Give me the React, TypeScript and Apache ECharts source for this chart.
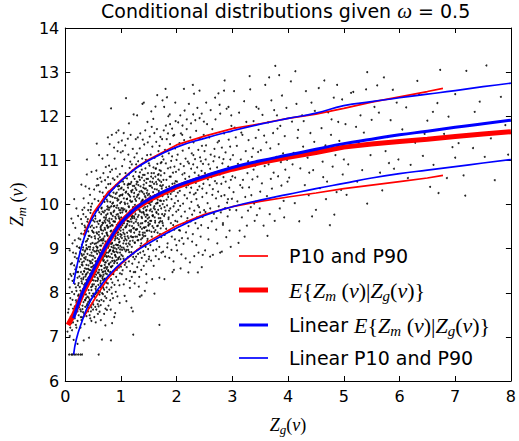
import React, { useEffect, useRef } from "react";
import * as echarts from "echarts";

// ---- data (flat x,y pairs) ----
const cloudEdge = [
  0.07,6.6, 0.11,6.6, 0.13,6.6, 0.16,6.6, 0.19,6.6, 0.23,6.6, 0.27,6.6, 0.3,6.6, 0.6,6.6,
  0.04,7.12, 0.05,7.55, 0.06,8.31, 0.08,7.02, 0.09,7.88, 0.1,8.65, 0.11,7.31, 0.12,8.02, 0.13,9.12, 0.14,7.64, 0.15,8.43, 0.15,6.93, 0.16,7.97, 0.17,8.81, 0.17,7.42, 0.18,9.47, 0.19,8.12, 0.2,7.21, 0.2,8.58, 0.21,7.76, 0.21,9.05, 0.22,8.34, 0.22,6.84, 0.23,7.93, 0.23,9.74, 0.24,8.22, 0.24,7.49, 0.25,8.71, 0.08,8.96, 0.12,7.15, 0.14,9.58, 0.18,7.61, 0.19,8.89, 0.1,7.73, 0.07,9.31, 0.16,10.12, 0.21,8.47, 0.24,9.23, 0.13,8.27, 0.19,7.83, 0.22,7.36, 0.09,8.42, 0.2,9.91, 0.25,7.67, 0.17,8.2, 0.11,9.68,
  0.06,7.63, 0.08,8.12, 0.1,7.46, 0.11,8.38, 0.13,7.84, 0.14,8.91, 0.15,7.52, 0.16,8.29, 0.17,7.69, 0.18,8.53, 0.19,7.27, 0.2,8.04, 0.21,8.78, 0.22,7.58, 0.23,8.47, 0.24,7.96, 0.25,9.02, 0.12,8.67, 0.14,7.33, 0.17,9.19, 0.2,7.79, 0.23,8.17, 0.09,7.21, 0.16,8.62,
];
const cloudQ1 = [
  0.26,8.13, 0.27,7.62, 0.27,9.21, 0.28,8.47, 0.28,7.94, 0.29,8.88, 0.29,7.38, 0.3,9.56, 0.3,8.21, 0.31,7.71, 0.31,8.62, 0.32,9.03, 0.32,7.98, 0.33,8.35, 0.33,10.14, 0.34,7.52, 0.34,8.79, 0.35,9.41, 0.35,8.04, 0.36,7.83, 0.36,8.96, 0.37,8.41, 0.37,9.72, 0.38,7.47, 0.38,8.63, 0.39,9.18, 0.39,8.12, 0.4,7.91, 0.4,8.74, 0.41,9.87, 0.41,8.33, 0.42,7.66, 0.42,9.04, 0.43,8.52, 0.43,10.36, 0.44,7.85, 0.44,8.98, 0.45,8.27, 0.45,9.49, 0.46,7.58, 0.46,8.71, 0.47,9.26, 0.47,8.06, 0.48,8.49, 0.48,10.02, 0.49,7.77, 0.49,9.13, 0.5,8.38, 0.5,9.64,
  0.262,8.58, 0.274,7.21, 0.283,9.67, 0.295,8.01, 0.305,8.84, 0.318,7.56, 0.326,9.33, 0.339,8.18, 0.347,7.29, 0.353,8.55, 0.364,10.41, 0.372,8.09, 0.381,9.01, 0.393,7.74, 0.404,8.46, 0.412,9.39, 0.423,8.21, 0.436,7.49, 0.441,8.85, 0.452,9.81, 0.464,8.13, 0.476,7.93, 0.483,8.67, 0.495,9.38, 0.268,7.86, 0.287,8.32, 0.299,9.09, 0.311,8.42, 0.334,8.71, 0.342,9.93, 0.358,7.68, 0.369,9.16, 0.377,8.29, 0.386,10.68, 0.398,8.88, 0.408,7.58, 0.417,8.62, 0.428,9.58, 0.433,7.99, 0.447,8.43, 0.458,9.11, 0.469,7.36, 0.472,8.91, 0.487,8.19, 0.498,7.62, 0.256,9.02, 0.278,8.76, 0.302,7.44, 0.324,9.78, 0.351,8.93, 0.374,7.88, 0.396,9.61, 0.419,8.06, 0.444,10.22, 0.466,8.58, 0.491,8.75, 0.315,8.97, 0.362,8.37, 0.406,9.22, 0.455,7.71, 0.479,9.52, 0.289,10.45, 0.331,6.92, 0.425,6.98, 0.388,11.02, 0.471,10.74, 0.336,8.49, 0.409,7.79, 0.438,9.29, 0.482,8.29, 0.296,8.64, 0.357,9.48, 0.392,8.15, 0.462,9.95, 0.279,7.45, 0.345,7.97, 0.415,10.03, 0.449,7.42, 0.307,9.88, 0.368,8.81, 0.432,8.33, 0.497,8.97, 0.252,7.81, 0.321,8.08, 0.384,8.54, 0.451,8.67,
];
const cloudQ2 = [
  0.51,8.62, 0.512,9.47, 0.518,7.91, 0.523,8.94, 0.527,10.12, 0.531,8.36, 0.536,9.23, 0.539,7.68, 0.543,8.71, 0.547,9.86, 0.552,8.14, 0.556,9.05, 0.559,8.49, 0.563,10.43, 0.566,7.83, 0.571,8.88, 0.574,9.61, 0.578,8.27, 0.582,9.14, 0.585,7.52, 0.589,8.66, 0.593,10.08, 0.596,8.95, 0.6,8.04, 0.603,9.38, 0.607,8.52, 0.611,9.82, 0.614,7.96, 0.618,8.79, 0.621,9.26, 0.625,8.37, 0.629,10.61, 0.632,8.97, 0.636,7.72, 0.639,9.51, 0.643,8.61, 0.646,9.07, 0.65,8.19, 0.654,9.93, 0.657,8.83, 0.661,7.99, 0.664,9.34, 0.668,8.47, 0.671,10.27, 0.675,8.92, 0.679,9.58, 0.682,8.11, 0.686,9.19, 0.689,7.81, 0.693,8.74, 0.696,9.71, 0.7,8.56, 0.704,10.06, 0.707,9.02, 0.711,8.32, 0.714,9.43, 0.718,8.87, 0.721,7.64, 0.725,9.67, 0.729,8.69, 0.732,10.38, 0.736,9.11, 0.739,8.23, 0.743,9.36, 0.746,8.81, 0.75,9.89,
  0.505,9.02, 0.515,8.19, 0.521,7.45, 0.534,8.55, 0.541,9.68, 0.549,7.99, 0.554,8.41, 0.561,9.37, 0.569,8.01, 0.576,8.57, 0.587,9.91, 0.591,8.31, 0.598,7.69, 0.605,9.17, 0.612,8.68, 0.619,10.29, 0.627,8.12, 0.634,9.48, 0.641,8.39, 0.648,7.84, 0.655,9.21, 0.662,8.76, 0.669,9.84, 0.677,8.29, 0.684,10.71, 0.691,8.96, 0.698,8.07, 0.705,9.28, 0.712,7.92, 0.719,9.59, 0.726,8.44, 0.733,9.04, 0.741,8.12, 0.748,9.52, 0.508,8.28, 0.526,9.61, 0.544,8.09, 0.558,10.77, 0.572,9.34, 0.584,8.45, 0.597,9.56, 0.609,7.81, 0.623,9.64, 0.637,8.89, 0.651,10.52, 0.666,8.14, 0.681,9.41, 0.695,10.18, 0.709,8.63, 0.723,8.98, 0.737,7.88, 0.502,7.73, 0.532,8.79, 0.562,8.71, 0.592,9.22, 0.622,8.02, 0.652,8.61, 0.682,8.72, 0.712,9.86, 0.742,8.54, 0.517,10.34, 0.547,7.33, 0.577,10.58, 0.607,11.12, 0.638,7.38, 0.667,11.04, 0.697,7.52, 0.727,10.85, 0.747,7.61, 0.524,8.43, 0.553,9.12, 0.583,7.74, 0.613,8.91, 0.644,9.78, 0.673,8.37, 0.703,8.83, 0.734,9.76, 0.529,9.28, 0.568,8.96, 0.601,8.46, 0.631,9.19, 0.659,9.54, 0.688,8.41, 0.717,8.49, 0.745,10.11, 0.537,7.97, 0.579,9.03, 0.616,7.57, 0.647,9.42, 0.676,7.97, 0.706,9.63, 0.738,8.91, 0.557,7.62, 0.594,10.44, 0.635,8.27, 0.674,9.12, 0.713,10.55, 0.565,11.38, 0.658,6.94, 0.72,7.26,
];
const cloudQ3 = [
  0.752,9.31, 0.755,8.58, 0.758,10.07, 0.761,9.64, 0.764,8.21, 0.768,9.02, 0.771,10.46, 0.774,8.83, 0.777,9.49, 0.781,8.39, 0.784,9.88, 0.787,9.17, 0.791,8.07, 0.794,10.21, 0.797,8.96, 0.801,9.58, 0.804,8.47, 0.807,10.74, 0.811,9.26, 0.814,8.69, 0.817,9.81, 0.821,8.31, 0.824,9.41, 0.827,10.33, 0.831,8.88, 0.834,9.67, 0.837,7.98, 0.841,9.13, 0.844,10.02, 0.847,8.61, 0.851,9.52, 0.854,10.59, 0.857,8.94, 0.861,9.29, 0.864,8.42, 0.867,9.96, 0.871,9.07, 0.874,10.38, 0.877,8.73, 0.881,9.61, 0.884,8.18, 0.887,9.34, 0.891,10.15, 0.894,8.86, 0.897,9.72, 0.901,8.53, 0.904,9.45, 0.907,10.81, 0.911,9.09, 0.914,8.36, 0.917,9.93, 0.921,8.99, 0.924,10.27, 0.927,9.54, 0.931,8.67, 0.934,9.24, 0.937,10.63, 0.941,8.91, 0.944,9.78, 0.947,8.28, 0.951,9.37, 0.954,10.11, 0.957,9.02, 0.961,8.57, 0.964,9.69, 0.967,10.42, 0.971,8.81, 0.974,9.58, 0.977,9.16, 0.981,8.44, 0.984,10.03, 0.987,9.33, 0.991,8.76, 0.994,9.87, 0.997,10.52,
  0.753,8.02, 0.759,9.79, 0.766,10.62, 0.772,8.49, 0.779,9.21, 0.786,10.88, 0.792,8.94, 0.799,9.93, 0.806,7.83, 0.812,9.51, 0.818,10.19, 0.826,8.58, 0.832,9.11, 0.839,10.79, 0.846,8.23, 0.852,9.74, 0.859,9.02, 0.866,10.27, 0.872,8.49, 0.879,9.86, 0.886,11.04, 0.892,8.71, 0.899,9.23, 0.906,8.02, 0.912,10.44, 0.919,9.47, 0.926,8.52, 0.932,9.98, 0.939,11.21, 0.946,9.08, 0.952,8.79, 0.959,10.34, 0.966,9.44, 0.972,8.17, 0.979,10.69, 0.986,9.06, 0.993,9.41, 0.999,8.59, 0.757,11.12, 0.776,7.71, 0.796,11.37, 0.816,7.62, 0.836,11.58, 0.856,7.88, 0.876,11.29, 0.896,7.54, 0.916,11.63, 0.936,7.92, 0.956,11.41, 0.976,7.77, 0.996,11.18, 0.762,9.47, 0.783,8.66, 0.803,9.11, 0.823,9.96, 0.843,8.79, 0.863,9.62, 0.883,10.56, 0.903,9.28, 0.923,8.74, 0.943,10.41, 0.963,9.21, 0.983,8.98, 0.769,8.91, 0.789,9.62, 0.809,10.47, 0.829,9.27, 0.849,8.43, 0.869,9.39, 0.889,9.01, 0.909,9.68, 0.929,10.14, 0.949,9.57, 0.969,9.87, 0.989,10.21, 0.756,9.96, 0.808,8.97, 0.858,10.04, 0.908,8.81, 0.958,9.73, 0.778,10.29, 0.828,8.12, 0.878,8.92, 0.928,9.36, 0.978,9.47, 0.822,12.18, 0.765,11.52, 0.955,11.68, 0.82,6.92, 0.88,7.45, 0.84,7.31,
];
const cloudQ4 = [
  1.003,9.71, 1.008,8.86, 1.012,10.38, 1.016,9.24, 1.021,10.87, 1.025,9.53, 1.029,8.51, 1.034,9.91, 1.038,10.52, 1.042,9.12, 1.047,8.77, 1.051,10.14, 1.055,9.66, 1.06,11.02, 1.064,9.33, 1.068,8.63, 1.073,10.01, 1.077,9.48, 1.081,10.71, 1.086,8.94, 1.09,9.84, 1.094,10.29, 1.099,9.19, 1.103,8.58, 1.107,10.59, 1.112,9.77, 1.116,9.05, 1.12,10.44, 1.125,8.81, 1.129,9.62, 1.133,11.13, 1.138,9.96, 1.142,8.71, 1.146,10.21, 1.151,9.41, 1.155,10.83, 1.159,9.09, 1.164,8.49, 1.168,9.86, 1.172,10.47, 1.177,9.28, 1.181,10.06, 1.185,8.92, 1.19,9.72, 1.194,10.91, 1.198,9.51, 1.203,8.66, 1.207,10.33, 1.211,9.18, 1.216,9.94, 1.22,10.64, 1.224,8.89, 1.229,9.58, 1.233,10.18, 1.237,9.36, 1.242,11.07, 1.246,8.76, 1.25,9.99,
  1.005,10.06, 1.014,8.42, 1.023,9.82, 1.032,11.21, 1.041,9.43, 1.05,8.19, 1.059,10.46, 1.068,9.27, 1.077,11.34, 1.086,9.74, 1.095,8.31, 1.104,10.12, 1.113,9.56, 1.122,11.49, 1.131,8.97, 1.14,10.68, 1.149,9.79, 1.158,8.27, 1.167,10.97, 1.176,9.67, 1.185,10.51, 1.194,8.36, 1.203,9.88, 1.212,11.26, 1.221,9.46, 1.23,8.47, 1.239,10.42, 1.248,9.14, 1.01,9.31, 1.028,10.23, 1.046,9.02, 1.064,9.89, 1.082,8.68, 1.1,9.52, 1.118,10.02, 1.136,9.24, 1.154,9.61, 1.172,8.84, 1.19,10.28, 1.208,9.69, 1.226,9.93, 1.244,10.58, 1.019,8.97, 1.037,9.58, 1.055,9.18, 1.073,10.61, 1.091,9.11, 1.109,9.36, 1.127,10.24, 1.145,8.92, 1.163,10.09, 1.181,9.42, 1.199,9.26, 1.217,8.81, 1.235,9.73, 1.049,11.62, 1.097,7.81, 1.143,11.84, 1.187,7.66, 1.227,12.04, 1.066,7.93, 1.173,11.58, 1.213,7.58, 1.09,12.41, 1.16,8.11, 1.015,11.45, 1.245,8.21, 1.132,10.47, 1.074,9.67, 1.204,10.77, 1.22,7.05, 1.37,7.94,
  1.254,10.12, 1.258,9.27, 1.263,10.74, 1.267,9.61, 1.271,8.82, 1.276,10.33, 1.28,9.88, 1.285,11.16, 1.289,9.44, 1.293,8.97, 1.298,10.51, 1.302,9.72, 1.307,10.98, 1.311,9.19, 1.315,10.23, 1.32,8.69, 1.324,9.96, 1.329,10.62, 1.333,9.38, 1.337,11.27, 1.342,9.84, 1.346,8.91, 1.351,10.41, 1.355,9.57, 1.359,10.88, 1.364,9.12, 1.368,10.07, 1.373,8.79, 1.377,9.69, 1.381,11.04, 1.386,10.28, 1.39,9.31, 1.395,10.67, 1.399,8.94, 1.403,9.91, 1.408,10.45, 1.412,9.48, 1.417,11.36, 1.421,9.77, 1.425,8.86, 1.43,10.19, 1.434,9.62, 1.439,10.82, 1.443,9.04, 1.447,10.36, 1.452,9.86, 1.456,8.71, 1.461,10.58, 1.465,9.41, 1.469,11.12, 1.474,9.96, 1.478,9.22, 1.483,10.71, 1.487,8.99, 1.491,10.03, 1.496,9.54, 1.5,10.93,
  1.256,8.47, 1.265,11.48, 1.274,9.43, 1.283,10.17, 1.292,8.58, 1.301,11.52, 1.31,9.89, 1.319,10.64, 1.328,8.36, 1.337,9.31, 1.346,11.61, 1.355,10.02, 1.364,8.52, 1.373,10.79, 1.382,9.24, 1.391,11.47, 1.4,9.83, 1.409,8.61, 1.418,10.54, 1.427,9.36, 1.436,11.68, 1.445,9.72, 1.454,8.42, 1.463,10.26, 1.472,9.17, 1.481,11.41, 1.49,9.59, 1.499,8.76, 1.26,9.78, 1.279,10.46, 1.297,9.19, 1.316,9.53, 1.334,10.29, 1.352,9.06, 1.371,9.82, 1.389,10.11, 1.408,9.28, 1.426,10.36, 1.444,9.49, 1.463,9.77, 1.481,10.21, 1.272,10.91, 1.306,8.88, 1.341,10.73, 1.376,9.45, 1.411,10.01, 1.446,11.01, 1.481,9.68, 1.29,12.02, 1.338,7.91, 1.385,12.28, 1.428,8.04, 1.475,11.87, 1.32,8.14, 1.41,12.31, 1.46,8.23,
];
const cloudCore = [
  0.253,8.37, 0.261,7.74, 0.266,8.92, 0.272,8.05, 0.281,7.58, 0.286,9.34, 0.292,8.26, 0.297,7.91, 0.303,8.69, 0.309,7.63, 0.314,9.15, 0.322,8.31, 0.328,7.79, 0.333,8.87, 0.341,8.48, 0.346,9.52, 0.352,7.84, 0.357,8.21, 0.363,8.76, 0.371,7.96, 0.376,9.08, 0.382,8.43, 0.387,7.71, 0.394,8.99, 0.401,8.17, 0.405,9.67, 0.411,8.54, 0.418,7.89, 0.422,9.29, 0.429,8.36, 0.435,8.72, 0.439,7.82, 0.446,9.04, 0.453,8.51, 0.457,9.88, 0.463,8.28, 0.468,7.67, 0.474,8.84, 0.481,9.41, 0.486,8.15, 0.492,8.59, 0.499,7.98,
  0.504,8.83, 0.509,9.36, 0.516,8.41, 0.522,7.96, 0.528,9.11, 0.533,8.62, 0.538,9.74, 0.545,8.27, 0.551,8.93, 0.557,8.05, 0.562,9.49, 0.567,8.58, 0.573,9.02, 0.579,8.34, 0.586,9.87, 0.59,8.77, 0.595,8.18, 0.602,9.31, 0.608,8.64, 0.615,9.63, 0.62,8.41, 0.626,9.07, 0.631,8.22, 0.637,9.44, 0.642,8.86, 0.649,9.91, 0.653,8.52, 0.659,9.18, 0.665,8.33, 0.67,9.59, 0.676,8.79, 0.683,9.23, 0.687,8.48, 0.692,9.82, 0.699,8.98, 0.703,8.31, 0.708,9.47, 0.715,8.69, 0.72,9.16, 0.726,8.58, 0.731,9.71, 0.736,8.83, 0.742,9.35, 0.747,8.42,
  0.751,9.52, 0.758,8.73, 0.763,9.29, 0.769,8.51, 0.774,9.93, 0.78,9.06, 0.785,8.64, 0.792,9.68, 0.798,9.17, 0.802,8.81, 0.808,10.06, 0.813,9.39, 0.819,8.59, 0.825,9.78, 0.83,9.04, 0.836,9.54, 0.842,8.72, 0.848,10.17, 0.853,9.26, 0.86,8.96, 0.865,9.83, 0.87,9.42, 0.876,8.67, 0.882,9.97, 0.888,9.19, 0.893,9.61, 0.898,8.84, 0.905,10.24, 0.91,9.36, 0.916,8.93, 0.922,9.77, 0.927,9.49, 0.933,9.08, 0.938,10.09, 0.944,9.31, 0.95,8.76, 0.955,9.92, 0.96,9.53, 0.966,9.14, 0.972,10.19, 0.977,9.67, 0.983,8.91, 0.988,9.81, 0.994,9.27, 0.998,10.36,
  1.002,9.48, 1.009,9.92, 1.013,9.03, 1.019,10.21, 1.026,9.64, 1.031,8.83, 1.036,9.87, 1.043,9.36, 1.048,10.33, 1.054,9.58, 1.061,8.98, 1.066,10.04, 1.071,9.71, 1.078,9.22, 1.084,10.27, 1.089,9.49, 1.096,9.86, 1.101,8.97, 1.108,10.13, 1.114,9.63, 1.119,9.28, 1.126,10.38, 1.131,9.77, 1.137,9.12, 1.143,9.94, 1.148,10.46, 1.153,9.52, 1.161,9.17, 1.166,10.18, 1.171,9.83, 1.178,9.38, 1.184,10.31, 1.189,9.61, 1.195,9.04, 1.201,10.07, 1.206,9.74, 1.213,10.42, 1.218,9.26, 1.223,9.89, 1.231,9.47, 1.236,10.26, 1.241,9.69, 1.247,9.13,
  1.252,9.84, 1.259,10.37, 1.264,9.43, 1.27,10.08, 1.277,9.66, 1.282,10.52, 1.288,9.27, 1.294,9.93, 1.299,10.21, 1.305,9.58, 1.312,10.44, 1.317,9.76, 1.322,9.32, 1.329,10.14, 1.335,9.87, 1.34,10.56, 1.347,9.49, 1.353,10.02, 1.358,9.21, 1.365,10.31, 1.37,9.72, 1.375,10.61, 1.383,9.58, 1.388,10.09, 1.393,9.36, 1.4,10.38, 1.406,9.81, 1.413,10.24, 1.418,9.47, 1.424,10.67, 1.431,9.94, 1.437,9.29, 1.442,10.16, 1.449,9.63, 1.455,10.49, 1.46,9.88, 1.466,9.41, 1.473,10.32, 1.479,9.76, 1.484,10.58, 1.492,9.52, 1.497,10.13,
  1.505,9.71, 1.512,10.42, 1.519,9.56, 1.526,10.19, 1.534,9.89, 1.541,10.63, 1.547,9.38, 1.555,10.07, 1.562,10.51, 1.569,9.74, 1.576,10.28, 1.584,9.47, 1.591,10.71, 1.598,9.96, 1.606,10.35, 1.613,9.63, 1.62,10.17, 1.627,10.82, 1.635,9.83, 1.642,10.46, 1.649,9.51, 1.656,10.04, 1.664,10.67, 1.671,9.78, 1.678,10.31, 1.685,9.59, 1.693,10.54, 1.7,10.09, 1.708,9.69, 1.715,10.76, 1.722,9.91, 1.73,10.41, 1.737,9.62, 1.744,10.22,
];
const cloudQ5 = [
  1.503,10.24, 1.508,9.41, 1.513,10.88, 1.518,9.86, 1.523,10.52, 1.528,9.08, 1.533,11.13, 1.538,10.06, 1.543,9.63, 1.548,10.71, 1.553,9.27, 1.558,10.38, 1.563,11.31, 1.568,9.74, 1.573,10.15, 1.578,8.96, 1.583,10.84, 1.588,9.92, 1.593,10.47, 1.598,9.38, 1.603,11.06, 1.608,10.21, 1.613,9.59, 1.618,10.63, 1.623,8.83, 1.628,10.02, 1.633,11.42, 1.638,9.81, 1.643,10.34, 1.648,9.17, 1.653,10.92, 1.658,10.11, 1.663,9.52, 1.668,10.57, 1.673,11.21, 1.678,9.69, 1.683,10.27, 1.688,9.04, 1.693,10.78, 1.698,9.97, 1.703,10.43, 1.708,11.53, 1.713,9.46, 1.718,10.08, 1.723,9.26, 1.728,10.96, 1.733,10.36, 1.738,9.78, 1.743,11.09, 1.748,9.58,
  1.506,8.82, 1.517,11.54, 1.529,9.99, 1.541,8.73, 1.552,11.76, 1.564,9.51, 1.576,10.59, 1.587,8.61, 1.599,11.62, 1.61,9.89, 1.622,10.81, 1.634,8.98, 1.645,11.71, 1.657,9.36, 1.668,10.24, 1.68,8.76, 1.692,11.33, 1.703,9.62, 1.715,10.66, 1.727,8.91, 1.738,11.48, 1.749,10.01, 1.511,10.03, 1.535,10.42, 1.558,9.84, 1.582,10.16, 1.605,9.71, 1.629,10.51, 1.652,10.03, 1.676,10.69, 1.699,9.33, 1.722,10.51, 1.745,10.19, 1.523,9.63, 1.571,9.76, 1.619,9.42, 1.667,9.88, 1.714,10.94, 1.544,12.11, 1.651,12.48, 1.601,7.98, 1.689,8.34, 1.746,12.36, 1.58,11.94, 1.69,7.27, 1.62,12.22, 1.56,8.31,
  1.752,10.44, 1.757,9.52, 1.763,11.02, 1.768,10.08, 1.773,9.74, 1.779,10.71, 1.784,9.31, 1.789,11.24, 1.795,10.29, 1.8,9.86, 1.805,10.93, 1.811,9.45, 1.816,10.56, 1.821,11.48, 1.827,9.98, 1.832,10.34, 1.837,9.12, 1.843,10.82, 1.848,10.17, 1.853,9.67, 1.859,11.16, 1.864,10.41, 1.869,9.39, 1.875,10.63, 1.88,11.37, 1.885,9.91, 1.891,10.24, 1.896,9.58, 1.901,10.99, 1.907,10.12, 1.912,9.27, 1.917,11.09, 1.923,10.47, 1.928,9.76, 1.933,10.72, 1.939,11.56, 1.944,9.96, 1.949,10.31, 1.955,9.43, 1.96,10.86, 1.965,10.03, 1.971,11.27, 1.976,9.63, 1.981,10.53, 1.987,10.19, 1.992,9.84, 1.997,11.01,
  1.756,8.93, 1.768,11.68, 1.781,9.94, 1.793,8.82, 1.806,11.79, 1.818,10.11, 1.831,9.03, 1.843,11.61, 1.856,9.71, 1.868,8.79, 1.881,11.82, 1.893,10.63, 1.906,8.97, 1.918,11.72, 1.931,10.36, 1.943,8.71, 1.956,11.58, 1.968,9.21, 1.981,11.89, 1.994,9.08, 1.762,10.56, 1.787,9.78, 1.812,10.39, 1.837,10.23, 1.862,9.86, 1.887,10.84, 1.912,10.29, 1.937,9.53, 1.962,10.48, 1.987,10.74, 1.775,12.21, 1.825,12.43, 1.875,12.04, 1.925,8.47, 1.975,12.31, 1.8,12.62, 1.95,8.52, 1.78,8.31, 1.85,12.0,
];
const cloudQ6 = [
  2.004,10.52, 2.011,9.61, 2.017,11.13, 2.024,10.08, 2.03,9.88, 2.037,10.79, 2.043,9.42, 2.05,11.39, 2.056,10.31, 2.063,9.97, 2.069,10.92, 2.076,11.61, 2.082,9.73, 2.089,10.46, 2.095,9.24, 2.102,10.68, 2.108,11.22, 2.115,10.02, 2.121,9.56, 2.128,10.87, 2.134,11.46, 2.141,10.21, 2.147,9.84, 2.154,10.58, 2.16,11.04, 2.167,9.37, 2.173,10.39, 2.18,11.71, 2.186,10.14, 2.193,9.69, 2.199,10.97, 2.206,10.44, 2.212,9.51, 2.219,11.28, 2.225,10.63, 2.232,9.91, 2.238,10.27, 2.245,11.52, 2.251,9.62, 2.258,10.81, 2.264,10.06, 2.271,11.16, 2.277,9.77, 2.284,10.54, 2.29,9.33, 2.297,10.91, 2.303,11.41, 2.31,10.23, 2.316,9.86, 2.323,10.72, 2.329,11.03, 2.336,9.58, 2.342,10.49, 2.349,11.67, 2.355,10.12, 2.362,9.71, 2.368,10.84, 2.375,10.33, 2.381,9.46, 2.388,11.24, 2.394,10.66, 2.401,9.94, 2.407,10.41, 2.414,11.49, 2.42,9.82, 2.427,10.59, 2.433,10.98, 2.44,9.53, 2.446,10.76, 2.453,11.33, 2.459,10.17, 2.466,9.72, 2.472,10.92, 2.479,10.47, 2.485,11.58, 2.492,9.87, 2.498,10.62,
  2.008,8.96, 2.027,11.86, 2.046,9.18, 2.065,12.02, 2.085,8.87, 2.104,11.79, 2.123,9.11, 2.142,12.13, 2.161,8.78, 2.181,11.93, 2.2,9.23, 2.219,12.28, 2.238,8.69, 2.257,11.84, 2.277,9.16, 2.296,12.04, 2.315,8.83, 2.334,11.91, 2.353,9.08, 2.372,12.19, 2.392,8.91, 2.411,11.96, 2.43,9.27, 2.449,12.06, 2.468,8.86, 2.488,11.88, 2.02,10.27, 2.06,9.41, 2.1,11.58, 2.14,10.71, 2.18,9.62, 2.22,10.93, 2.26,10.38, 2.3,11.12, 2.34,10.26, 2.38,9.98, 2.42,11.07, 2.46,10.36, 2.5,11.21, 2.13,12.62, 2.31,12.51, 2.38,8.46, 2.21,8.46, 2.45,8.58, 2.29,12.71, 2.07,8.55, 2.41,12.58,
  2.507,10.71, 2.516,9.83, 2.526,11.34, 2.535,10.26, 2.545,11.82, 2.554,10.03, 2.564,9.47, 2.573,10.91, 2.583,11.52, 2.592,10.44, 2.602,9.91, 2.611,11.13, 2.621,10.62, 2.63,9.62, 2.64,11.71, 2.649,10.35, 2.659,10.98, 2.668,9.79, 2.678,11.26, 2.687,10.53, 2.697,11.93, 2.706,10.14, 2.716,9.69, 2.725,10.84, 2.735,11.41, 2.744,10.29, 2.754,9.96, 2.763,11.07, 2.773,10.68, 2.782,12.06, 2.792,9.82, 2.801,10.47, 2.811,11.29, 2.82,10.93, 2.83,9.54, 2.839,10.62, 2.849,11.61, 2.858,10.21, 2.868,9.92, 2.877,11.18, 2.887,10.77, 2.896,12.17, 2.906,10.04, 2.915,9.73, 2.925,10.86, 2.934,11.47, 2.944,10.38, 2.953,9.88, 2.963,11.02, 2.972,10.56, 2.982,11.78, 2.991,10.13,
  2.51,8.96, 2.53,12.31, 2.57,9.21, 2.61,12.14, 2.65,8.86, 2.69,12.42, 2.73,9.12, 2.77,12.26, 2.81,8.93, 2.85,12.58, 2.89,9.26, 2.93,12.21, 2.97,9.04, 2.52,11.02, 2.56,10.57, 2.6,10.81, 2.64,10.22, 2.68,11.09, 2.72,10.48, 2.76,11.44, 2.8,10.19, 2.84,11.03, 2.88,10.52, 2.92,10.12, 2.96,11.31, 3.0,10.64, 2.75,12.52, 2.86,12.81, 2.6,8.82, 2.78,8.91, 2.98,12.02, 2.71,9.43, 2.83,9.58, 2.95,9.41,
];
const cloudFar = [
  3.01,11.12, 3.02,10.28, 3.04,11.74, 3.05,10.61, 3.07,9.87, 3.08,11.33, 3.1,10.92, 3.11,9.13, 3.12,12.08, 3.14,10.44, 3.15,11.02, 3.17,9.71, 3.18,11.58, 3.2,10.83, 3.21,12.34, 3.23,10.17, 3.24,11.21, 3.26,9.52, 3.27,10.71, 3.29,11.46, 3.3,10.39, 3.32,12.61, 3.33,9.94, 3.35,11.08, 3.36,10.57, 3.38,11.89, 3.39,10.02, 3.41,10.88, 3.42,11.51, 3.44,9.76, 3.45,10.63, 3.47,12.17, 3.48,10.96, 3.5,10.29,
  3.03,12.57, 3.09,10.07, 3.13,9.41, 3.16,11.63, 3.19,10.56, 3.22,9.27, 3.25,11.87, 3.28,10.98, 3.31,12.91, 3.34,10.21, 3.37,11.27, 3.4,9.63, 3.43,12.21, 3.46,11.19, 3.49,9.91, 3.06,11.52, 3.18,10.38, 3.28,9.86, 3.38,10.79, 3.47,11.69,
  3.51,11.23, 3.53,10.48, 3.54,12.03, 3.56,9.52, 3.58,10.87, 3.59,12.71, 3.61,11.41, 3.62,10.19, 3.64,11.86, 3.65,10.91, 3.67,9.78, 3.68,11.27, 3.7,12.36, 3.71,10.36, 3.73,11.62, 3.74,10.72, 3.76,9.63, 3.77,13.14, 3.79,11.08, 3.8,12.02, 3.82,10.64, 3.83,11.37, 3.85,9.91, 3.86,11.78, 3.88,10.43, 3.89,12.47, 3.91,11.16, 3.92,10.08, 3.94,11.55, 3.95,10.79, 3.97,12.19, 3.98,11.01, 3.57,11.56, 3.63,9.29, 3.69,10.58, 3.75,12.14, 3.81,11.72, 3.87,10.96, 3.93,9.71, 3.99,10.52, 3.66,12.88, 3.84,12.93,
  4.02,10.61, 4.05,12.79, 4.07,11.88, 4.1,11.17, 4.12,10.03, 4.15,12.28, 4.17,11.51, 4.2,9.62, 4.22,10.82, 4.25,12.02, 4.27,11.31, 4.3,10.44, 4.32,12.57, 4.35,11.06, 4.37,10.21, 4.4,11.62, 4.42,12.31, 4.45,10.78, 4.47,11.42, 4.5,9.88, 4.52,11.19, 4.55,12.64, 4.57,10.37, 4.6,11.73, 4.62,10.97, 4.65,12.81, 4.67,11.34, 4.7,10.52, 4.72,12.09, 4.75,9.53, 4.77,11.58, 4.8,10.86, 4.82,12.42, 4.85,11.12, 4.87,10.28, 4.9,11.87, 4.92,11.44, 4.95,10.33, 4.97,12.38, 5.0,11.02, 4.08,10.91, 4.18,11.69, 4.28,11.89, 4.38,10.72, 4.48,12.12, 4.58,11.26, 4.68,10.12, 4.78,11.93, 4.88,12.71, 4.98,10.68, 4.13,13.02, 4.43,9.73, 4.63,10.62, 4.83,9.77,
  5.03,11.82, 5.08,10.91, 5.13,12.53, 5.17,12.55, 5.18,11.31, 5.24,10.52, 5.05,10.22, 5.27,11.41, 5.3,12.02, 5.36,11.63, 5.4,12.61, 5.42,10.02, 5.42,13.0, 5.48,11.12, 5.5,11.92, 5.55,12.21, 5.6,12.7, 5.65,10.72, 5.69,10.32, 5.72,12.88, 5.75,11.21, 5.78,11.53, 5.84,11.91, 5.88,12.6, 5.9,10.81, 5.95,12.31, 5.98,11.02, 5.22,11.76, 5.58,11.38, 5.81,10.94, 5.33,10.78, 5.63,12.08,
  6.05,11.7, 6.12,12.2, 6.2,10.9, 6.28,11.4, 6.35,12.5, 6.42,11.1, 6.5,11.9, 6.55,10.4, 6.61,10.9, 6.68,12.3, 6.7,10.26, 6.73,13.05, 6.8,11.6, 6.88,11.99, 6.95,11.3, 6.15,10.6, 6.32,12.8, 6.45,11.6, 6.6,12.1, 6.85,10.6,
  7.0,12.5, 7.0,11.06, 7.06,11.39, 7.15,10.66, 7.18,10.2, 7.2,13.03, 7.32,11.28, 7.35,12.1, 7.44,12.33, 7.53,11.08, 7.56,13.15, 7.64,11.5, 7.71,10.55, 7.82,12.44, 7.95,11.13, 7.9,11.8,
];

// conditional statistics (empirical, red)
const empX = [0.05, 0.15, 0.3, 0.5, 0.75, 1.0, 1.25, 1.5, 2.0, 2.5, 3.0, 3.5, 4.0, 4.5, 5.0, 5.5, 6.0, 6.5, 7.0, 7.5, 8.0];
const empMean = [7.27, 7.5, 7.95, 8.45, 9.1, 9.6, 9.9, 10.1, 10.4, 10.62, 10.8, 10.95, 11.07, 11.18, 11.3, 11.37, 11.43, 11.48, 11.54, 11.6, 11.65];
const empPX = [0.33, 0.5, 0.75, 1.0, 1.25, 1.5, 2.0, 2.5, 3.0, 3.5, 4.0, 4.5, 5.0, 5.5, 6.0, 6.5, 6.78];
const empP90 = [9.3, 9.8, 10.25, 10.55, 10.82, 11.02, 11.35, 11.55, 11.72, 11.83, 11.95, 12.05, 12.18, 12.32, 12.44, 12.56, 12.63];
const empP10 = [7.45, 7.8, 8.3, 8.65, 8.93, 9.17, 9.52, 9.78, 9.95, 10.07, 10.17, 10.26, 10.36, 10.44, 10.52, 10.6, 10.66];

// linear model (blue)
const linX = [0.15, 0.2, 0.3, 0.4, 0.5, 0.66, 0.8, 1.0, 1.25, 1.5, 2.0, 2.5, 3.0, 3.5, 4.0, 4.5, 5.0, 5.5, 6.0, 6.5, 7.0, 7.5, 8.0];
const linMean = [7.42, 7.62, 7.98, 8.25, 8.5, 8.9, 9.2, 9.58, 9.9, 10.12, 10.42, 10.64, 10.84, 10.99, 11.12, 11.25, 11.38, 11.48, 11.58, 11.66, 11.75, 11.83, 11.91];
const linP90 = [8.2, 8.55, 9.08, 9.45, 9.72, 10.03, 10.27, 10.53, 10.8, 11.0, 11.3, 11.5, 11.67, 11.82, 11.95, 12.07, 12.24, 12.33, 12.42, 12.5, 12.58, 12.67, 12.75];
const linP10 = [6.6, 6.95, 7.35, 7.68, 7.92, 8.2, 8.42, 8.67, 8.92, 9.12, 9.47, 9.75, 9.95, 10.1, 10.23, 10.36, 10.48, 10.6, 10.7, 10.78, 10.86, 10.94, 11.02];

const zip = (xs: number[], ys: number[]) => xs.map((x, i) => [x, ys[i]]);
const pairs = (flat: number[]) => {
  const out: number[][] = [];
  for (let i = 0; i + 1 < flat.length; i += 2) out.push([flat[i], flat[i + 1]]);
  return out;
};

const SANS = "DejaVu Sans";
const MATH = "Liberation Serif";

const mathRich = (size: number) => ({
  m: { fontFamily: MATH, fontStyle: "italic", fontSize: size, color: "#000" },
  s: { fontFamily: MATH, fontStyle: "italic", fontSize: Math.round(size * 0.7), color: "#000", padding: [Math.round(size * 0.5), 0, 0, 0] },
  t: { fontFamily: SANS, fontSize: 19, color: "#000" },
});

const condText = "{m|E}{{m|Z}{s|m} ({m|v})|{m|Z}{s|g}({m|v})}";

export default function App() {
  const ref = useRef<HTMLDivElement>(null);
  useEffect(() => {
    if (!ref.current) return;
    const chart = echarts.init(ref.current, undefined, { renderer: "svg" });
    const axisCommon = {
      type: "value" as const,
      interval: 1,
      axisLine: { show: true, onZero: false, lineStyle: { color: "#000", width: 1 } },
      axisTick: { show: true, inside: true, length: 5, lineStyle: { color: "#000", width: 1 } },
      splitLine: { show: false },
    };
    const legendRows = [
      { y: 256, color: "#ff0000", w: 1.7, text: "{t|P10 and P90}" },
      { y: 290, color: "#ff0000", w: 5, text: condText },
      { y: 325, color: "#0000ff", w: 3, text: "{t|Linear }" + condText },
      { y: 358, color: "#0000ff", w: 1.7, text: "{t|Linear P10 and P90}" },
    ];
    const graphics: any[] = [];
    legendRows.forEach((r) => {
      graphics.push({
        type: "line",
        shape: { x1: 239, y1: r.y, x2: 268, y2: r.y },
        style: { stroke: r.color, lineWidth: r.w },
        silent: true,
      });
      graphics.push({
        type: "text",
        x: 289,
        y: r.y,
        style: {
          text: r.text,
          fontFamily: MATH,
          fontSize: 22,
          fill: "#000",
          verticalAlign: "middle",
          align: "left",
          rich: mathRich(22),
        },
        silent: true,
      });
    });

    const lineSeries = (name: string, data: number[][], color: string, width: number, smooth: number | boolean) => ({
      name,
      type: "line",
      data,
      showSymbol: false,
      symbol: "none",
      smooth,
      lineStyle: { color, width },
      itemStyle: { color },
      silent: true,
    });

    const cloud = [cloudEdge, cloudQ1, cloudQ2, cloudQ3, cloudQ4, cloudCore, cloudQ5, cloudQ6, cloudFar].flatMap(pairs);

    chart.setOption({
      animation: false,
      title: {
        text: "Conditional distributions given {w|ω} = 0.5",
        left: 101,
        top: 0,
        padding: 0,
        textStyle: {
          fontFamily: SANS,
          fontSize: 19,
          fontWeight: "normal",
          color: "#000",
          rich: { w: { fontFamily: MATH, fontStyle: "italic", fontSize: 21, color: "#000" } },
        },
      },
      grid: { left: 63, right: 6, top: 28, bottom: 54, containLabel: false },
      xAxis: [
        {
          ...axisCommon,
          min: 0,
          max: 8,
          position: "bottom",
          axisLabel: { color: "#000", fontFamily: SANS, fontSize: 16, margin: 7 },
          name: "{m|Z}{s|g}({m|v})",
          nameLocation: "middle",
          nameGap: 33,
          nameTextStyle: { fontFamily: MATH, fontSize: 18, color: "#000", rich: mathRich(18) },
        },
        {
          ...axisCommon,
          min: 0,
          max: 8,
          position: "top",
          axisLabel: { show: false },
        },
      ],
      yAxis: [
        {
          ...axisCommon,
          min: 6,
          max: 14,
          position: "left",
          axisLabel: { color: "#000", fontFamily: SANS, fontSize: 16, margin: 6 },
          name: "{m|Z}{s|m} ({m|v})",
          nameLocation: "middle",
          nameRotate: 90,
          nameGap: 26,
          nameTextStyle: { fontFamily: MATH, fontSize: 18, color: "#000", rich: mathRich(18) },
        },
        {
          ...axisCommon,
          min: 6,
          max: 14,
          position: "right",
          axisLabel: { show: false },
        },
      ],
      series: [
        {
          name: "samples",
          type: "scatter",
          data: cloud,
          symbol: "circle",
          symbolSize: 2,
          itemStyle: { color: "#000", opacity: 0.85 },
          silent: true,
          large: false,
        },
        lineSeries("P90", zip(empPX, empP90), "#ff0000", 1.7, false),
        lineSeries("P10", zip(empPX, empP10), "#ff0000", 1.7, false),
        lineSeries("E", zip(empX, empMean), "#ff0000", 5, false),
        lineSeries("Linear E", zip(linX, linMean), "#0000ff", 3, 0.5),
        lineSeries("Linear P90", zip(linX, linP90), "#0000ff", 1.7, 0.5),
        lineSeries("Linear P10", zip(linX, linP10), "#0000ff", 1.7, 0.5),
      ],
      graphic: graphics,
    });
    return () => chart.dispose();
  }, []);
  return <div ref={ref} style={{ width: 519, height: 441, position: "absolute", left: 0, top: 0 }} />;
}
